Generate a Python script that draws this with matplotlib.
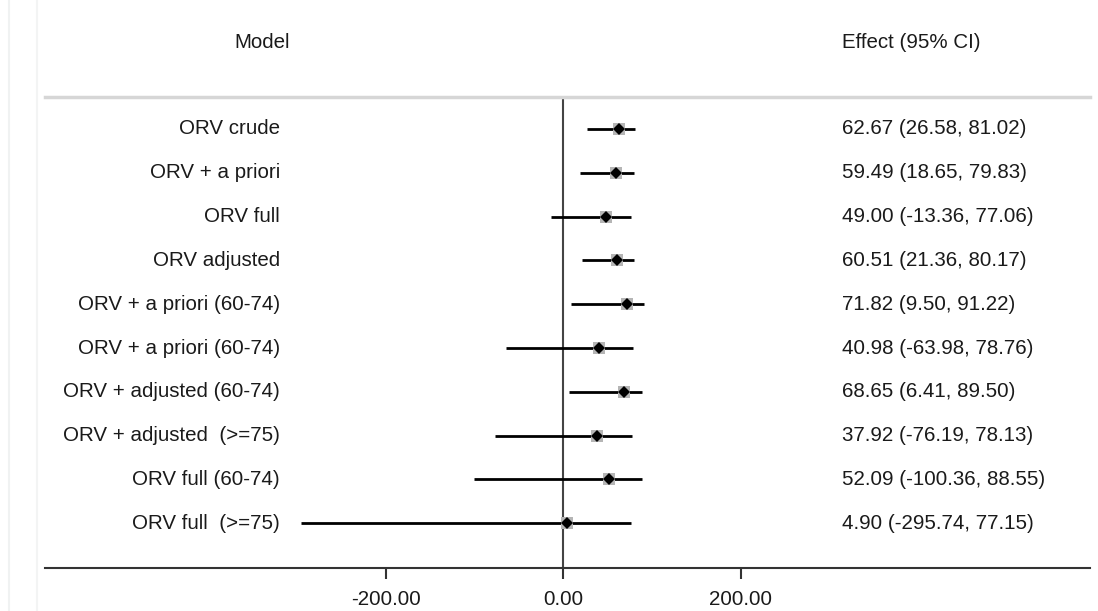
import matplotlib
matplotlib.use('Agg')
import matplotlib.pyplot as plt
import matplotlib.transforms as mtransforms

plt.rcParams['font.family'] = ['Liberation Sans', 'DejaVu Sans']

# Forest plot data
models = [
    "ORV crude",
    "ORV + a priori",
    "ORV full",
    "ORV adjusted",
    "ORV + a priori (60-74)",
    "ORV + a priori (60-74)",
    "ORV + adjusted (60-74)",
    "ORV + adjusted  (>=75)",
    "ORV full (60-74)",
    "ORV full  (>=75)",
]
effects = [62.67, 59.49, 49.00, 60.51, 71.82, 40.98, 68.65, 37.92, 52.09, 4.90]
lower = [26.58, 18.65, -13.36, 21.36, 9.50, -63.98, 6.41, -76.19, -100.36, -295.74]
upper = [81.02, 79.83, 77.06, 80.17, 91.22, 78.76, 89.50, 78.13, 88.55, 77.15]
xticks = [-200, 0, 200]

W, H = 1098, 611
FS = 14.8
TXT = '#1a1a1a'
fig = plt.figure(figsize=(W / 100, H / 100), dpi=100)

# axes spans the plot band between header rule and bottom axis
left, right, top, bottom = 45, 1090, 97, 568
ax = fig.add_axes([left / W, 1 - bottom / H, (right - left) / W, (bottom - top) / H])

px_per_unit = 177.5 / 200
x0 = 563
ax.set_xlim((left - x0) / px_per_unit, (right - x0) / px_per_unit)
row0, step = 129, 43.8
ax.set_ylim((bottom - row0) / step, (top - row0) / step)

rows = list(range(len(models)))

# zero reference line
ax.axvline(0, color='#444444', lw=1.5, zorder=1)

for i in rows:
    ax.plot([lower[i], upper[i]], [i, i], color='black', lw=2, solid_capstyle='butt', zorder=2)
ax.plot(effects, rows, linestyle='none', marker='s', markersize=9,
        color='#b5b5b5', markeredgewidth=0, zorder=3)
ax.plot(effects, rows, linestyle='none', marker='D', markersize=6.5,
        color='black', markeredgewidth=0, zorder=4)

# row labels and effect text
trans = mtransforms.blended_transform_factory(fig.transFigure, ax.transData)
for i in rows:
    ax.text(280 / W, i, models[i], transform=trans, ha='right', va='center',
            fontsize=FS, color=TXT)
    txt = f"{effects[i]:.2f} ({lower[i]:.2f}, {upper[i]:.2f})"
    ax.text(842 / W, i, txt, transform=trans, ha='left', va='center',
            fontsize=FS, color=TXT)

# headers
fig.text(262 / W, 1 - 43 / H, "Model", ha='center', va='center', fontsize=FS, color=TXT)
fig.text(842 / W, 1 - 43 / H, "Effect (95% CI)", ha='left', va='center', fontsize=FS, color=TXT)

# spines and ticks
for s in ['left', 'right']:
    ax.spines[s].set_visible(False)
ax.spines['top'].set_color('#d6d6d6')
ax.spines['top'].set_linewidth(2.5)
ax.spines['bottom'].set_color('#333333')
ax.spines['bottom'].set_linewidth(1.5)
ax.set_yticks([])
ax.set_xticks(xticks)
ax.set_xticklabels([f"{t:.2f}" for t in xticks], fontsize=FS, color=TXT)
ax.tick_params(axis='x', direction='out', length=8, width=1.5, color='#333333', pad=8)
ax.patch.set_alpha(0)

# faint frame lines at the left edge
fig.add_artist(plt.Line2D([9 / W, 9 / W], [0, 1], color='#f0f2f2', lw=1.5))
fig.add_artist(plt.Line2D([37 / W, 37 / W], [0, 1], color='#f3f4f4', lw=1.5))

fig.savefig('out.png', dpi=100)
